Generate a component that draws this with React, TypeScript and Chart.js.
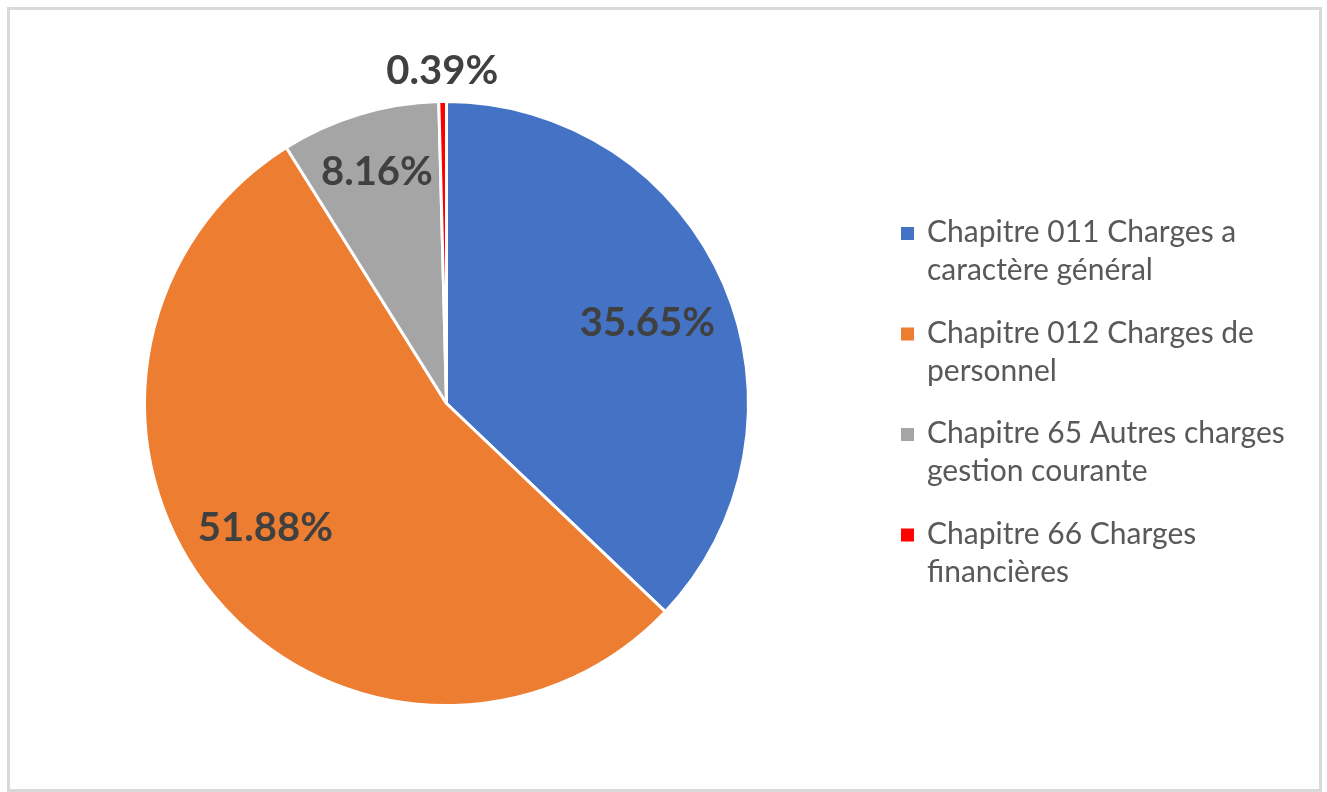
import { useEffect, useRef } from "react";
import { Chart, registerables } from "chart.js";

Chart.register(...registerables);

const categoryLines: string[][] = [
  ["Chapitre 011 Charges a", "caractère général"],
  ["Chapitre 012 Charges de", "personnel"],
  ["Chapitre 65 Autres charges", "gestion courante"],
  ["Chapitre 66 Charges", "financières"],
];
const categories = categoryLines.map((l) => l.join(" "));
const values = [35.65, 51.88, 8.16, 0.39];
const valueLabels = ["35.65%", "51.88%", "8.16%", "0.39%"];
const colors = ["#4472C4", "#ED7D31", "#A5A5A5", "#FF0000"];
const labelRadiusFactor = [0.717, 0.727, 0.8, 1.1];
const labelAngleShiftDeg = [1.3, 4.8, 0, 0];

export default function App() {
  const ref = useRef<HTMLCanvasElement | null>(null);

  useEffect(() => {
    if (!ref.current) return;

    const framePlugin = {
      id: "frame",
      beforeDraw(chart: any) {
        const ctx = chart.ctx;
        ctx.save();
        ctx.fillStyle = "#ffffff";
        ctx.fillRect(0, 0, chart.width, chart.height);
        ctx.strokeStyle = "#d9d9d9";
        ctx.lineWidth = 3;
        ctx.strokeRect(8.5, 8.5, 1312, 782);
        ctx.restore();
      },
    };

    const labelPlugin = {
      id: "sliceLabels",
      afterDatasetsDraw(chart: any) {
        const ctx = chart.ctx;
        const meta = chart.getDatasetMeta(0);
        ctx.save();
        ctx.font = "bold 40px Lato";
        ctx.fillStyle = "#404040";
        ctx.textAlign = "center";
        ctx.textBaseline = "middle";
        meta.data.forEach((arc: any, i: number) => {
          const mid = (arc.startAngle + arc.endAngle) / 2 + (labelAngleShiftDeg[i] * Math.PI) / 180;
          const r = arc.outerRadius * labelRadiusFactor[i];
          const x = arc.x + Math.cos(mid) * r;
          const y = arc.y + Math.sin(mid) * r;
          ctx.fillText(valueLabels[i], x, y);
        });
        ctx.restore();
      },
    };

    const legendPlugin = {
      id: "wrappedLegend",
      afterDraw(chart: any) {
        const ctx = chart.ctx;
        ctx.save();
        ctx.font = "30px Lato";
        ctx.textBaseline = "alphabetic";
        ctx.textAlign = "left";
        const x0 = 901;
        const tx = 927;
        const firstBaseline = 242;
        const itemGap = 100.5;
        const lineGap = 38.3;
        categoryLines.forEach((lines, i) => {
          const base = firstBaseline + i * itemGap;
          ctx.fillStyle = colors[i];
          ctx.fillRect(x0, base - 15, 13, 13);
          ctx.fillStyle = "#595959";
          lines.forEach((line, j) => {
            ctx.fillText(line, tx, base + j * lineGap);
          });
        });
        ctx.restore();
      },
    };

    const chart = new Chart(ref.current, {
      type: "pie",
      data: {
        labels: categories,
        datasets: [
          {
            data: values,
            backgroundColor: colors,
            borderColor: "#ffffff",
            borderWidth: 3,
          },
        ],
      },
      options: {
        responsive: false,
        animation: false,
        layout: { padding: { left: 143, right: 577, top: 100, bottom: 85 } },
        plugins: {
          legend: { display: false },
          tooltip: { enabled: false },
        },
      },
      plugins: [framePlugin, labelPlugin, legendPlugin],
    });

    return () => chart.destroy();
  }, []);

  return (
    <div style={{ position: "fixed", left: 0, top: 0, width: 1327, height: 792 }}>
      <canvas ref={ref} width={1327} height={792} style={{ display: "block" }} />
    </div>
  );
}
